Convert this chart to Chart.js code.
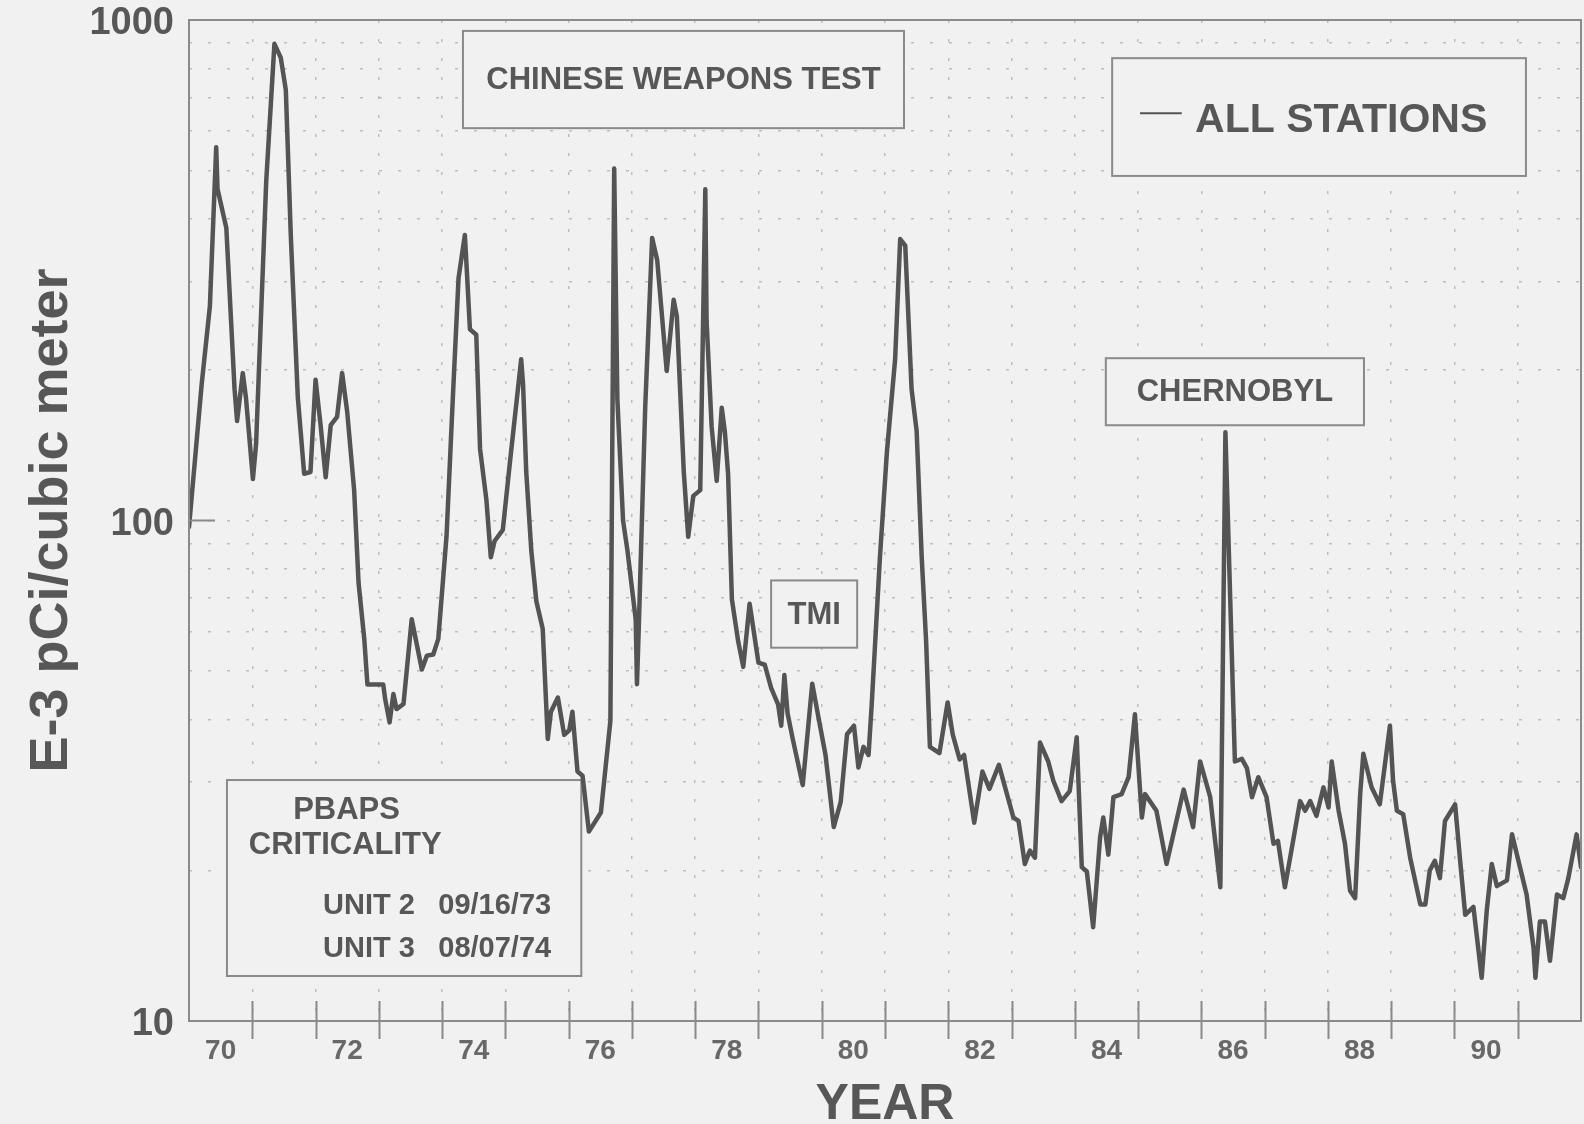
<!DOCTYPE html>
<html>
<head>
<meta charset="utf-8">
<title>Airborne gross beta, all stations</title>
<script src="https://cdn.jsdelivr.net/npm/chart.js@4.4.1/dist/chart.umd.min.js"></script>
<style>
  html, body { margin: 0; padding: 0; background: #f1f1f1; }
  canvas { display: block; }
</style>
</head>
<body>
<canvas id="chart" width="1584" height="1124" style="width:1584px;height:1124px"></canvas>
<script>
// Sample dates (decimal years) and E-3 pCi per cubic metre, all stations combined
const sampleYears = [
  1970.00, 1970.20, 1970.33, 1970.43, 1970.45, 1970.59, 1970.72, 1970.76, 1970.85, 1970.90,
  1971.01, 1971.06, 1971.22, 1971.35, 1971.45, 1971.53, 1971.61, 1971.72, 1971.82, 1971.92,
  1972.00, 1972.08, 1972.16, 1972.24, 1972.34, 1972.42, 1972.50, 1972.61, 1972.68, 1972.77,
  1972.82, 1973.00, 1973.07, 1973.10, 1973.17, 1973.23, 1973.28, 1973.39, 1973.52, 1973.68,
  1973.76, 1973.86, 1973.94, 1974.07, 1974.17, 1974.26, 1974.36, 1974.39, 1974.44, 1974.54,
  1974.60, 1974.70, 1974.77, 1974.83, 1974.96, 1975.07, 1975.25, 1975.28, 1975.33, 1975.41,
  1975.49, 1975.59, 1975.67, 1975.72, 1975.83, 1975.93, 1976.01, 1976.06, 1976.14, 1976.22,
  1976.32, 1976.51, 1976.66, 1976.72, 1976.77, 1976.86, 1976.93, 1977.06, 1977.08, 1977.11,
  1977.21, 1977.32, 1977.40, 1977.55, 1977.66, 1977.71, 1977.82, 1977.89, 1977.97, 1978.08,
  1978.16, 1978.18, 1978.26, 1978.34, 1978.42, 1978.47, 1978.52, 1978.58, 1978.68, 1978.76,
  1978.86, 1979.00, 1979.10, 1979.20, 1979.31, 1979.36, 1979.41, 1979.46, 1979.54, 1979.70,
  1979.85, 1979.96, 1980.06, 1980.19, 1980.30, 1980.40, 1980.51, 1980.58, 1980.66, 1980.74,
  1980.79, 1980.92, 1981.03, 1981.16, 1981.24, 1981.32, 1981.42, 1981.50, 1981.58, 1981.65,
  1981.71, 1981.86, 1981.99, 1982.07, 1982.18, 1982.25, 1982.41, 1982.54, 1982.65, 1982.80,
  1983.03, 1983.11, 1983.21, 1983.29, 1983.37, 1983.45, 1983.58, 1983.66, 1983.79, 1983.92,
  1984.03, 1984.11, 1984.19, 1984.29, 1984.40, 1984.45, 1984.53, 1984.61, 1984.74, 1984.85,
  1984.95, 1985.06, 1985.11, 1985.29, 1985.45, 1985.72, 1985.87, 1985.98, 1986.14, 1986.30,
  1986.38, 1986.53, 1986.64, 1986.72, 1986.80, 1986.90, 1987.03, 1987.14, 1987.21, 1987.32,
  1987.45, 1987.56, 1987.64, 1987.72, 1987.82, 1987.93, 1988.01, 1988.06, 1988.17, 1988.27,
  1988.35, 1988.43, 1988.51, 1988.56, 1988.69, 1988.82, 1988.98, 1989.03, 1989.09, 1989.19,
  1989.30, 1989.46, 1989.54, 1989.61, 1989.69, 1989.77, 1989.85, 1990.01, 1990.09, 1990.17,
  1990.30, 1990.43, 1990.51, 1990.59, 1990.67, 1990.83, 1990.91, 1991.06, 1991.14, 1991.25,
  1991.28, 1991.35, 1991.43, 1991.51, 1991.62, 1991.72, 1991.80, 1991.93, 1992.00
];
const concentrations = [
  97, 187, 268, 557, 460, 384, 183, 158, 197, 176,
  121, 142, 475, 896, 841, 725, 368, 176, 124, 125,
  191, 155, 122, 155, 161, 197, 165, 115, 75, 58,
  47, 47, 47, 44, 39.5, 45, 42, 43, 63.5, 50.4,
  53.7, 54, 58, 93, 176, 305, 372, 317, 241, 235,
  139, 110, 84.4, 91, 95.8, 130, 210, 187, 125, 87,
  69, 60.8, 36.6, 41.5, 44.3, 37.3, 38.1, 41.5, 31.5, 30.9,
  23.9, 26.1, 39.8, 505, 175, 100, 87, 63.4, 47.1, 62,
  168, 367, 331, 199, 276, 256, 125, 92.8, 112, 115,
  459, 251, 154, 120, 168, 150, 124, 69.6, 57.3, 51,
  68.2, 52, 51.5, 46.3, 42.9, 38.9, 49.1, 41.2, 36.7, 29.6,
  47.2, 39.7, 34, 24.4, 27.4, 37.4, 38.9, 32.1, 35.3, 34,
  42.9, 84.5, 137, 210, 365, 354, 183, 151, 84.5, 57.3,
  35.3, 34.3, 43.3, 37.4, 33.3, 34, 24.9, 31.5, 29.1, 32.5,
  25.5, 25.1, 20.6, 21.9, 21.2, 36, 33, 30.2, 27.5, 28.8,
  36.9, 20.3, 19.9, 15.4, 23.3, 25.5, 21.5, 28, 28.4, 30.7,
  41, 25.5, 28.4, 26.3, 20.6, 29, 24.4, 33, 28, 18.5,
  150, 33, 33.4, 32, 28, 30.7, 28, 22.6, 22.9, 18.5,
  22.9, 27.5, 26.3, 27.5, 25.7, 29.3, 26.7, 33, 26.3, 22.6,
  18.2, 17.6, 28.4, 34.2, 29.3, 27.1, 38.9, 30.2, 26.3, 25.9,
  21.2, 17.1, 17.1, 20, 20.9, 19.3, 25.1, 27.1, 20.9, 16.3,
  16.9, 12.2, 16.6, 20.6, 18.6, 19.1, 23.6, 19.7, 17.9, 14,
  12.2, 15.8, 15.8, 13.2, 17.9, 17.6, 19.3, 23.6, 20.3
];

// Axis ticks
const labelledYears = [1970, 1972, 1974, 1976, 1978, 1980, 1982, 1984, 1986, 1988, 1990];
const yearTickLabels = ['70', '72', '74', '76', '78', '80', '82', '84', '86', '88', '90'];
const yGridValues = [10, 20, 30, 40, 50, 60, 70, 80, 90, 100, 200, 300, 400, 500, 600, 700, 800, 900, 1000];
const yTickLabels = [10, 100, 1000];

const seriesName = 'ALL STATIONS';
const axisTitleX = 'YEAR';
const axisTitleY = 'E-3 pCi/cubic meter';

// Styling
const FONT = '"Liberation Sans", Arial, Helvetica, sans-serif';
const PAPER = '#f1f1f1';
const INK = '#575757';
const LINE = '#545454';
const FRAME = '#8a8a8a';
const GRID = '#bdbdbd';

// Event notes, placed in axis units (year, concentration)
const notes = [
  { box: [1974.33, 951, 1981.30, 608], texts: [{ t: 'CHINESE WEAPONS TEST', size: 31 }] },
  { box: [1984.49, 211, 1988.57, 155], texts: [{ t: 'CHERNOBYL', size: 31 }] },
  { box: [1979.20, 75.9, 1980.56, 55.7], texts: [{ t: 'TMI', size: 31 }] },
  { box: [1970.60, 30.3, 1976.20, 12.3], texts: [
      { t: 'PBAPS', size: 31, x: 1972.49, y: 26.4, align: 'center' },
      { t: 'CRITICALITY', size: 31, x: 1972.47, y: 22.4, align: 'center' },
      { t: 'UNIT 2', size: 29, x: 1973.57, y: 17.0, align: 'right' },
      { t: '09/16/73', size: 29, x: 1973.94, y: 17.0, align: 'left' },
      { t: 'UNIT 3', size: 29, x: 1973.57, y: 13.9, align: 'right' },
      { t: '08/07/74', size: 29, x: 1973.94, y: 13.9, align: 'left' }
  ] }
];
const legendBox = { box: [1984.59, 839, 1991.13, 488], swatch: [1985.03, 1985.69, 651], text: { x: 1985.90, y: 628, size: 41 } };

const paperPlugin = {
  id: 'paper',
  beforeDraw(chart) {
    const { ctx, width, height } = chart;
    ctx.save();
    ctx.fillStyle = PAPER;
    ctx.fillRect(0, 0, width, height);
    ctx.restore();
  }
};

function noteRect(x, y, b) {
  const x1 = x.getPixelForValue(b[0]), y1 = y.getPixelForValue(b[1]);
  const x2 = x.getPixelForValue(b[2]), y2 = y.getPixelForValue(b[3]);
  return { l: x1, t: y1, w: x2 - x1, h: y2 - y1 };
}

const notesPlugin = {
  id: 'notes',
  beforeDatasetsDraw(chart) {
    const { ctx, scales: { x, y } } = chart;
    ctx.save();
    ctx.lineWidth = 2;
    ctx.strokeStyle = FRAME;
    ctx.textBaseline = 'middle';
    for (const n of notes) {
      const r = noteRect(x, y, n.box);
      ctx.fillStyle = PAPER;
      ctx.fillRect(r.l, r.t, r.w, r.h);
      ctx.strokeRect(r.l, r.t, r.w, r.h);
      ctx.fillStyle = INK;
      for (const tx of n.texts) {
        ctx.font = 'bold ' + tx.size + 'px ' + FONT;
        if (tx.x === undefined) {
          ctx.textAlign = 'center';
          ctx.fillText(tx.t, r.l + r.w / 2, r.t + r.h / 2 + 1);
        } else {
          ctx.textAlign = tx.align;
          ctx.fillText(tx.t, x.getPixelForValue(tx.x), y.getPixelForValue(tx.y));
        }
      }
    }
    // legend
    const lr = noteRect(x, y, legendBox.box);
    ctx.fillStyle = PAPER;
    ctx.fillRect(lr.l, lr.t, lr.w, lr.h);
    ctx.strokeRect(lr.l, lr.t, lr.w, lr.h);
    const sy = y.getPixelForValue(legendBox.swatch[2]);
    ctx.strokeStyle = LINE;
    ctx.lineWidth = 2;
    ctx.beginPath();
    ctx.moveTo(x.getPixelForValue(legendBox.swatch[0]), sy);
    ctx.lineTo(x.getPixelForValue(legendBox.swatch[1]), sy);
    ctx.stroke();
    ctx.fillStyle = INK;
    ctx.textAlign = 'left';
    ctx.font = 'bold ' + legendBox.text.size + 'px ' + FONT;
    ctx.fillText(chart.data.datasets[0].label, x.getPixelForValue(legendBox.text.x), y.getPixelForValue(legendBox.text.y));
    ctx.restore();
  }
};

const framePlugin = {
  id: 'frame',
  afterDatasetsDraw(chart) {
    const { ctx, chartArea: a, scales: { x, y } } = chart;
    ctx.save();
    ctx.strokeStyle = FRAME;
    ctx.lineWidth = 2;
    ctx.strokeRect(a.left, a.top, a.right - a.left, a.bottom - a.top);
    ctx.beginPath();
    for (let yr = Math.ceil(x.min) + 1; yr < x.max; yr++) {
      const px = Math.round(x.getPixelForValue(yr)) + 0.5;
      ctx.moveTo(px, a.bottom - 20);
      ctx.lineTo(px, a.bottom + 18);
    }
    const py = y.getPixelForValue(100);
    ctx.moveTo(a.left, py);
    ctx.lineTo(a.left + 26, py);
    ctx.stroke();
    ctx.restore();
  }
};

new Chart(document.getElementById('chart'), {
  type: 'line',
  data: {
    datasets: [{
      label: seriesName,
      data: sampleYears.map((yr, i) => ({ x: yr, y: concentrations[i] })),
      borderColor: LINE,
      borderWidth: 4.5,
      borderJoinStyle: 'round',
      borderCapStyle: 'round',
      pointRadius: 0,
      tension: 0,
      fill: false
    }]
  },
  options: {
    responsive: false,
    animation: false,
    devicePixelRatio: 1,
    layout: { padding: { top: 20, right: 3, left: 0, bottom: 0 } },
    plugins: { legend: { display: false }, tooltip: { enabled: false } },
    scales: {
      x: {
        type: 'linear',
        min: 1970,
        max: 1992,
        afterBuildTicks(scale) {
          const t = [];
          for (let yr = 1970; yr <= 1992; yr++) {
            t.push({ value: yr });
            if (yr < 1992) t.push({ value: yr + 0.5 });
          }
          scale.ticks = t;
        },
        afterFit(scale) {
          scale.height = 103;
          scale.paddingLeft = 0;
          scale.paddingRight = 0;
        },
        grid: {
          color: (c) => (c.tick && Number.isInteger(c.tick.value)) ? GRID : 'rgba(0,0,0,0)',
          lineWidth: 1.5,
          drawTicks: false
        },
        border: { display: false, dash: [3, 16] },
        ticks: {
          autoSkip: false,
          maxRotation: 0,
          minRotation: 0,
          padding: 13,
          color: '#686868',
          font: { family: FONT, size: 28, weight: 'bold' },
          callback: (v) => {
            const i = labelledYears.indexOf(v - 0.5);
            return i >= 0 ? yearTickLabels[i] : '';
          }
        },
        title: {
          display: true,
          text: axisTitleX,
          color: INK,
          font: { family: FONT, size: 50, weight: 'bold', lineHeight: 0.76 },
          padding: 0
        }
      },
      y: {
        type: 'logarithmic',
        min: 10,
        max: 1000,
        afterBuildTicks(scale) { scale.ticks = yGridValues.map((v) => ({ value: v })); },
        afterFit(scale) { scale.width = 189; },
        grid: { color: GRID, lineWidth: 1.5, drawTicks: true, tickLength: 15, tickColor: 'rgba(0,0,0,0)' },
        border: { display: false, dash: [3, 16] },
        ticks: {
          padding: 0,
          labelOffset: 4,
          color: INK,
          font: { family: FONT, size: 38, weight: 'bold', lineHeight: 1 },
          callback: (v) => yTickLabels.includes(v) ? String(v) : ''
        },
        title: {
          display: true,
          text: axisTitleY,
          color: INK,
          font: { family: FONT, size: 54, weight: 'bold', lineHeight: 1 },
          padding: { top: 25, bottom: 0 }
        }
      }
    }
  },
  plugins: [paperPlugin, notesPlugin, framePlugin]
});
</script>
</body>
</html>
